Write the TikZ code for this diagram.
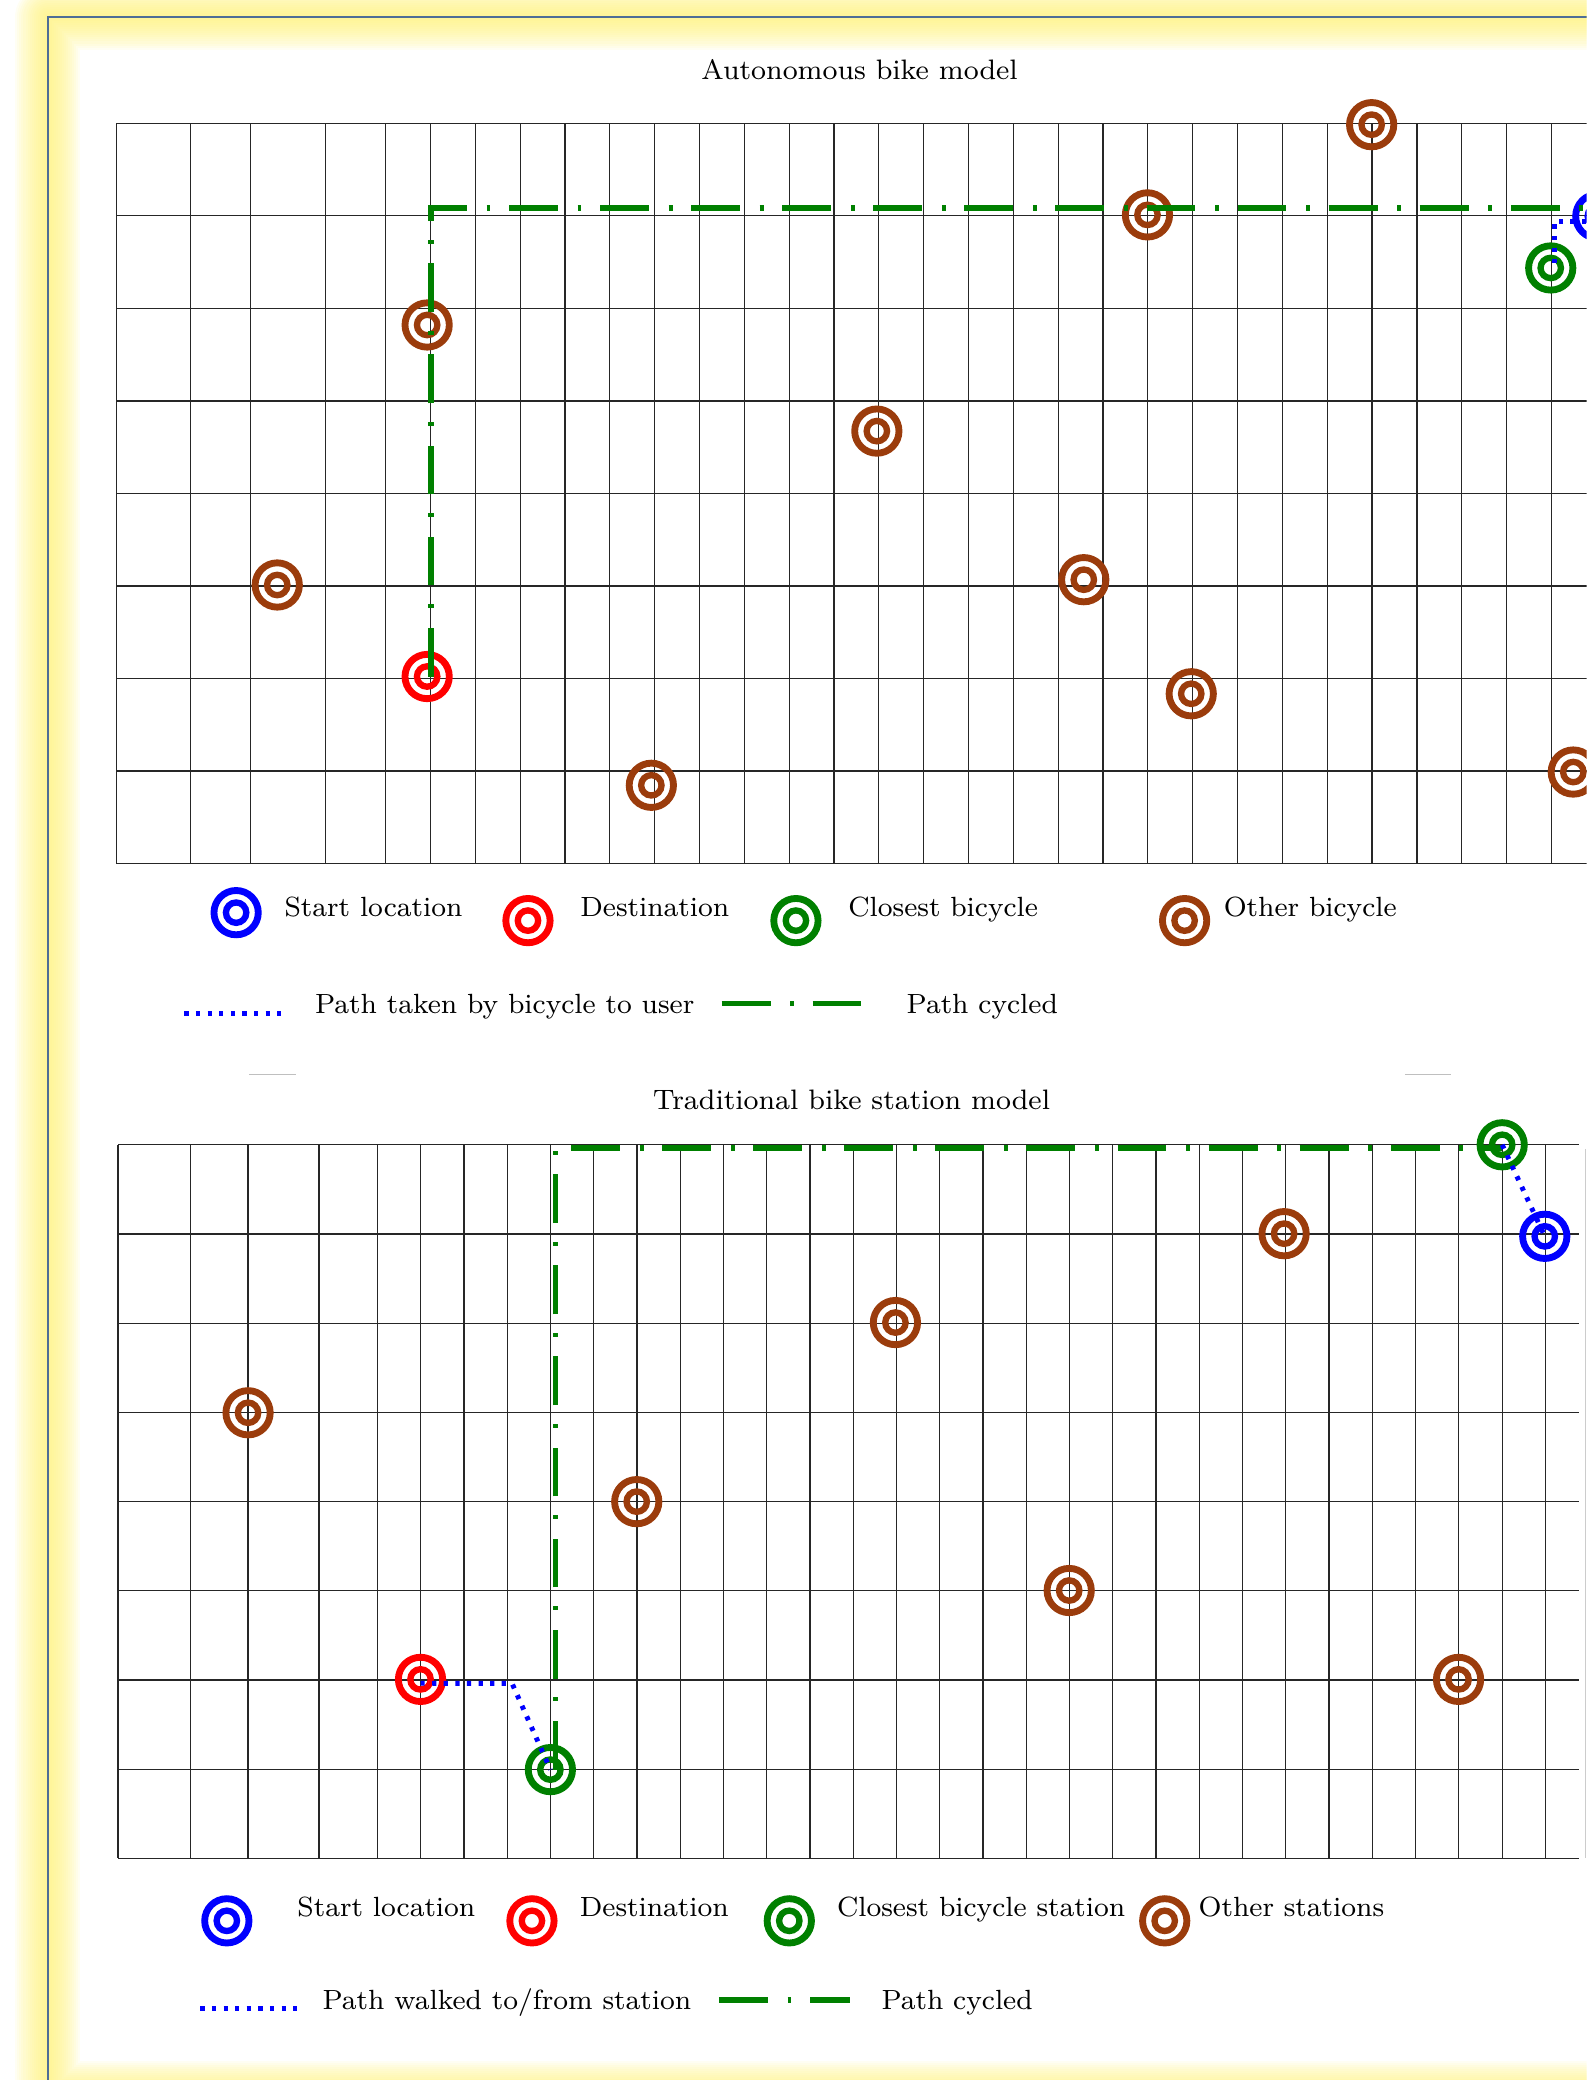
\documentclass[tikz,border=0pt]{standalone}
\usepackage{tikz}
\usetikzlibrary{calc}
\definecolor{bikebrown}{RGB}{155,60,12}
\definecolor{bikegreen}{RGB}{0,128,0}
\definecolor{frameblue}{RGB}{79,110,150}
\definecolor{glowyellow}{RGB}{255,242,120}

\begin{document}
\begin{tikzpicture}[x=0.1326mm,y=-0.1326mm,
  gridline/.style={black!85,line width=0.35pt},
  ring/.style={circle,draw=#1,line width=1.95pt,minimum size=12.6pt,inner sep=0pt,
    path picture={\draw[#1,line width=1.8pt] (path picture bounding box.center) circle (2.9pt);}},
  walkpath/.style={blue,line width=1.4pt,dash pattern=on 1.2pt off 2.1pt},
  cyclepath/.style={bikegreen,line width=1.5pt,dash pattern=on 13.9pt off 5.6pt on 1.1pt off 5.3pt},
  heading/.style={anchor=base,inner sep=0pt,font=\fontsize{8}{10}\selectfont},
  legtext/.style={anchor=base west,inner sep=0pt,font=\fontsize{7.9}{10}\selectfont}]
  \useasboundingbox (0,0) rectangle (1196,1568);
  \clip (0,0) rectangle (1196,1568);
  % frame with glow
  \foreach \k in {1,...,16}
    \draw[glowyellow,opacity=0.085,line width=\k*1.15pt,line join=round] (36,13) rectangle (1260,1578);
  \draw[frameblue,line width=0.6pt] (36,13) rectangle (1260,1578);
  \draw[gray!50,line width=0.5pt] (188,810) -- (223,810);
  \draw[gray!50,line width=0.5pt] (1059,810) -- (1094,810);

  % autonomous model
  \node[heading] (head1) at (648,60) {Autonomous bike model};
  \foreach \j in {0,...,8}
    \draw[gridline] (88,{93+69.75*\j}) -- (1196,{93+69.75*\j});
  \foreach \c in {88,143.6,189,245.6}
    \draw[gridline] (\c,93) -- (\c,651);
  \foreach \k in {0,...,26}
    \draw[gridline] ({290.7+33.8*\k},93) -- ({290.7+33.8*\k},651);

  \node[ring=blue] (start1) at (1204.5,163) {};
  \node[ring=red] (dest1) at (322,510) {};
  \node[ring=bikegreen] (near1) at (1169,202) {};
  \node[ring=bikebrown] (bikeA) at (1034,94) {};
  \node[ring=bikebrown] (bikeB) at (865,162) {};
  \node[ring=bikebrown] (bikeC) at (322,245) {};
  \node[ring=bikebrown] (bikeD) at (661,325) {};
  \node[ring=bikebrown] (bikeE) at (209,441) {};
  \node[ring=bikebrown] (bikeF) at (817,437) {};
  \node[ring=bikebrown] (bikeG) at (898,523) {};
  \node[ring=bikebrown] (bikeH) at (491,592) {};
  \node[ring=bikebrown] (bikeI) at (1186,582) {};

  \draw[cyclepath] ([xshift=1.1pt]dest1.center) |- ([yshift=2.3pt]start1.center);
  \draw[walkpath] ([yshift=-1.5pt]start1.center) -| ([xshift=1pt]near1.center);

  \node[ring=blue] (lgring1) at (178,688) {};
  \node[ring=red] (lgring2) at (398,694) {};
  \node[ring=bikegreen] (lgring3) at (600,694) {};
  \node[ring=bikebrown] (lgring4) at (893,694) {};
  \node[legtext] (lgstart1) at (214,691) {Start location};
  \node[legtext] (lgdest1) at (437,691) {Destination};
  \node[legtext] (lgnear1) at (639,691) {Closest bicycle};
  \node[legtext] (lgother1) at (922,691) {Other bicycle};
  \coordinate (lgwalkA) at (139,764);
  \coordinate (lgwalkB) at (215,764);
  \coordinate (lgcycA) at (544,756.5);
  \coordinate (lgcycB) at (649,756.5);
  \draw[walkpath] (lgwalkA) -- (lgwalkB);
  \draw[cyclepath] (lgcycA) -- (lgcycB);
  \node[legtext] (lgwalk1) at (237,764) {Path taken by bicycle to user};
  \node[legtext] (lgcyc1) at (683,764) {Path cycled};

  % station model
  \node[heading] (head2) at (642,836.5) {Traditional bike station model};
  \foreach \j in {0,...,8}
    \draw[gridline] (89,{863+67.25*\j}) -- (1190,{863+67.25*\j});
  \foreach \c in {89,143.5,187,240.5}
    \draw[gridline] (\c,863) -- (\c,1401);
  \foreach \k in {0,...,27}
    \draw[gridline] ({284.5+32.61*\k},863) -- ({284.5+32.61*\k},1401);
  \draw[gray!40,line width=0.4pt] (1195,866) -- (1195,1401);

  \node[ring=blue] (start2) at (1164.5,932) {};
  \node[ring=red] (dest2) at (317,1266) {};
  \node[ring=bikegreen] (near2) at (414.9,1334) {};
  \node[ring=bikegreen] (stn1) at (1132.4,863) {};
  \node[ring=bikebrown] (stnA) at (968,930) {};
  \node[ring=bikebrown] (stnB) at (675,997) {};
  \node[ring=bikebrown] (stnC) at (187,1065) {};
  \node[ring=bikebrown] (stnD) at (480,1132) {};
  \node[ring=bikebrown] (stnE) at (806,1199) {};
  \node[ring=bikebrown] (stnF) at (1099.5,1266) {};

  \coordinate (walkbend) at (386,1269);
  \draw[cyclepath] ([xshift=1.4pt]near2.center) |- ([yshift=-0.9pt]stn1.center);
  \draw[walkpath] ([yshift=-1.1pt]dest2.center) -- (walkbend) -- (near2.center);
  \draw[walkpath] (stn1.center) -- (start2.center);

  \node[ring=blue] (lgring5) at (171,1448) {};
  \node[ring=red] (lgring6) at (401,1448) {};
  \node[ring=bikegreen] (lgring7) at (595,1448) {};
  \node[ring=bikebrown] (lgring8) at (878,1448) {};
  \node[legtext] (lgstart2) at (223.7,1445) {Start location};
  \node[legtext] (lgdest2) at (436.6,1445) {Destination};
  \node[legtext] (lgnear2) at (630.5,1445) {Closest bicycle station};
  \node[legtext] (lgother2) at (903,1445) {Other stations};
  \coordinate (lgwalkC) at (151,1514);
  \coordinate (lgwalkD) at (225,1514);
  \coordinate (lgcycC) at (542,1507.6);
  \coordinate (lgcycD) at (641,1507.6);
  \draw[walkpath] (lgwalkC) -- (lgwalkD);
  \draw[cyclepath] (lgcycC) -- (lgcycD);
  \node[legtext] (lgwalk2) at (242.7,1515) {Path walked to/from station};
  \node[legtext] (lgcyc2) at (664,1515) {Path cycled};
\end{tikzpicture}
\end{document}
